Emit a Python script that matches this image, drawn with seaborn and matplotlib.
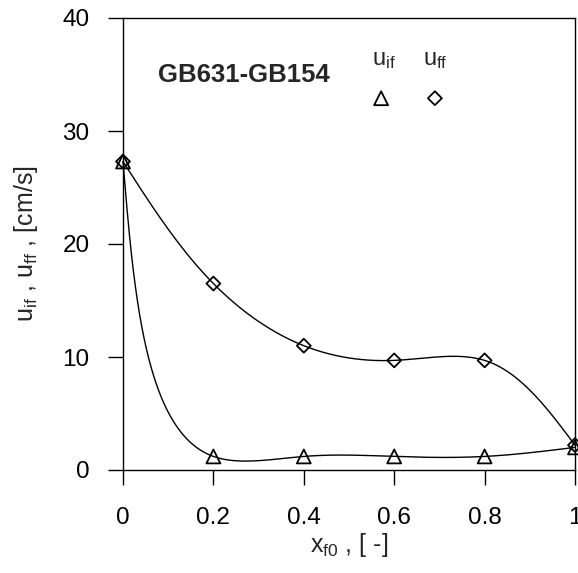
import numpy as np
import pandas as pd
import matplotlib
matplotlib.use("Agg")
import matplotlib.pyplot as plt
import seaborn as sns

# ---- data ----
x_f0 = [0.0, 0.2, 0.4, 0.6, 0.8, 1.0]
u_if = [27.3, 1.2, 1.2, 1.2, 1.2, 2.0]
u_ff = [27.3, 16.5, 11.0, 9.7, 9.7, 2.2]
x_ticks = [0, 0.2, 0.4, 0.6, 0.8, 1.0]
x_tick_labels = ["0", "0.2", "0.4", "0.6", "0.8", "1"]
y_ticks = [0, 10, 20, 30, 40]
y_tick_labels = ["0", "10", "20", "30", "40"]
title_text = "GB631-GB154"

XMAX, YMAX = 1.0, 40.0


def natural_spline_1d(t, y, tt):
    t = np.asarray(t, float); y = np.asarray(y, float)
    n = len(t)
    h = np.diff(t)
    A = np.zeros((n, n)); b = np.zeros(n)
    A[0, 0] = 1; A[-1, -1] = 1
    for i in range(1, n - 1):
        A[i, i - 1] = h[i - 1]
        A[i, i] = 2 * (h[i - 1] + h[i])
        A[i, i + 1] = h[i]
        b[i] = 6 * ((y[i + 1] - y[i]) / h[i] - (y[i] - y[i - 1]) / h[i - 1])
    M = np.linalg.solve(A, b)
    out = np.empty_like(tt)
    idx = np.clip(np.searchsorted(t, tt) - 1, 0, n - 2)
    for k, (ti, i) in enumerate(zip(tt, idx)):
        hi = h[i]
        a = (t[i + 1] - ti) / hi
        c = (ti - t[i]) / hi
        out[k] = (a * y[i] + c * y[i + 1]
                  + ((a ** 3 - a) * M[i] + (c ** 3 - c) * M[i + 1]) * hi ** 2 / 6)
    return out


def parametric_curve(xs, ys, npts=400, alpha=0.8):
    u = np.asarray(xs) / XMAX
    v = np.asarray(ys) / YMAX
    d = np.sqrt(np.diff(u) ** 2 + np.diff(v) ** 2) ** alpha
    t = np.concatenate([[0], np.cumsum(d)])
    tt = np.linspace(0, t[-1], npts)
    return natural_spline_1d(t, u, tt) * XMAX, natural_spline_1d(t, v, tt) * YMAX


cx_if, cy_if = parametric_curve(x_f0, u_if)
cx_ff, cy_ff = parametric_curve(x_f0, u_ff)

sns.set_style("ticks")
plt.rcParams["font.family"] = ["Liberation Sans", "DejaVu Sans"]
plt.rcParams["mathtext.fontset"] = "custom"
plt.rcParams["mathtext.rm"] = "Liberation Sans"
plt.rcParams["mathtext.it"] = "Liberation Sans:italic"

fig = plt.figure(figsize=(5.78, 5.73), dpi=100)
ax = fig.add_axes([123 / 578, 1 - 470 / 573, 452 / 578, 452 / 573])

curves = pd.DataFrame({"x": np.concatenate([cx_if, cx_ff]),
                       "y": np.concatenate([cy_if, cy_ff]),
                       "s": ["if"] * len(cx_if) + ["ff"] * len(cx_ff)})
sns.lineplot(data=curves, x="x", y="y", units="s", estimator=None, sort=False,
             color="black", linewidth=1.0, ax=ax, clip_on=False)

pts_if = pd.DataFrame({"x": x_f0, "y": u_if})
pts_ff = pd.DataFrame({"x": x_f0, "y": u_ff})
sns.scatterplot(data=pts_if, x="x", y="y", marker="^", s=100, color="black",
                ax=ax, zorder=5, clip_on=False)
sns.scatterplot(data=pts_ff, x="x", y="y", marker="D", s=50, color="black",
                ax=ax, zorder=5, clip_on=False)
for coll in ax.collections:
    coll.set_facecolor("none")
    coll.set_edgecolor("black")
    coll.set_linewidth(1.3)

# legend-like annotation
ax.scatter([0.571], [32.9], marker="^", s=100, facecolor="none", edgecolor="black",
           linewidth=1.3, zorder=5)
ax.scatter([0.69], [32.9], marker="D", s=50, facecolor="none", edgecolor="black",
           linewidth=1.3, zorder=5)
ax.text(0.578, 35.3, r"u$_{\mathregular{if}}$", fontsize=17, ha="center", va="bottom")
ax.text(0.69, 35.3, r"u$_{\mathregular{ff}}$", fontsize=17, ha="center", va="bottom")
ax.text(0.078, 35.0, title_text, fontsize=18.5, fontweight="bold", ha="left", va="center")

ax.set_xlim(0, XMAX)
ax.set_ylim(0, YMAX)
ax.set_xticks(x_ticks)
ax.set_xticklabels(x_tick_labels)
ax.set_yticks(y_ticks)
ax.set_yticklabels(y_tick_labels)
ax.tick_params(axis="both", direction="out", length=11, width=1.0,
               labelsize=17.5, color="black", labelcolor="black")
ax.tick_params(axis="x", pad=16)
ax.tick_params(axis="y", pad=13)
for sp in ax.spines.values():
    sp.set_visible(True)
    sp.set_color("black")
    sp.set_linewidth(1.0)

ax.set_xlabel(r"x$_{\mathregular{f0}}$ , [ -]", fontsize=18, labelpad=1)
ax.set_ylabel(r"u$_{\mathregular{if}}$ , u$_{\mathregular{ff}}$ , [cm/s]", fontsize=18, labelpad=16)

fig.savefig("out.png", dpi=100)
